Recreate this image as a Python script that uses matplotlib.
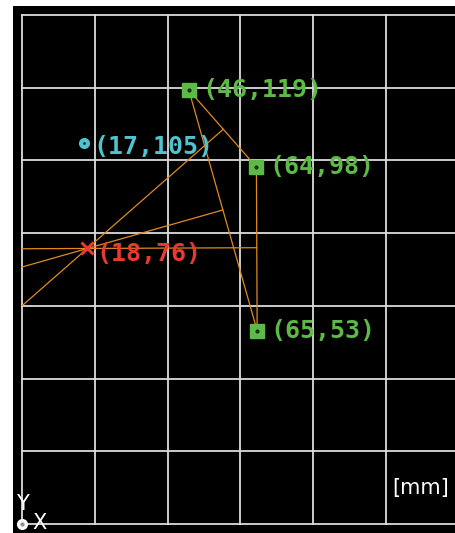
import matplotlib
matplotlib.use("Agg")
import matplotlib.pyplot as plt
import numpy as np

# measured points [mm]
green_x = [45.8, 64.4, 64.6]
green_y = [119.4, 98.2, 53.2]
blue_x = [17.0]
blue_y = [104.9]
red_x = [17.9]
red_y = [75.8]

grid_step = 20
grid_w = 120
grid_h = 140

GREEN = "#5dba46"
CYAN = "#4fc3cf"
RED = "#e83a2e"
ORANGE = "#e08a1e"
GRIDC = "#dcdcdc"


def label(x, y):
    return "(%d,%d)" % (round(x), round(y))


def foot(p, a, b):
    d = b - a
    t = np.dot(p - a, d) / np.dot(d, d)
    return a + t * d


fig = plt.figure(figsize=(4.56, 5.33), dpi=100)
ax = fig.add_axes([13 / 456, 0, 1 - 13 / 456, 1 - 6 / 533])
ax.set_facecolor("black")
ax.set_xlim(-2.56, 119.3)
ax.set_ylim(-2.48, 142.5)
ax.set_axis_off()
ax.add_patch(plt.Rectangle((-10, -10), 200, 200, color="black", zorder=0))

# grid
for gx in range(0, grid_w + 1, grid_step):
    ax.plot([gx, gx], [0, grid_h], color=GRIDC, lw=1.3, zorder=1)
for gy in range(0, grid_h + 1, grid_step):
    ax.plot([0, grid_w], [gy, gy], color=GRIDC, lw=1.3, zorder=1)

# triangle of green points
pts = np.array(list(zip(green_x, green_y)))
for i, j in [(0, 1), (0, 2), (1, 2)]:
    ax.plot([pts[i, 0], pts[j, 0]], [pts[i, 1], pts[j, 1]], color=ORANGE, lw=0.9, zorder=2)

# perpendiculars from the red point, extended to the left border
p = np.array([red_x[0], red_y[0]])
for i, j in [(0, 1), (0, 2), (1, 2)]:
    f = foot(p, pts[i], pts[j])
    d = p - f
    t = (0 - f[0]) / d[0]
    e = f + t * d
    ax.plot([f[0], e[0]], [f[1], e[1]], color=ORANGE, lw=0.9, zorder=2)

# markers
ax.plot(green_x, green_y, "s", ms=10.5, color=GREEN, mec=GREEN, zorder=4)
ax.plot(green_x, green_y, "o", ms=2, color="#1a3010", zorder=5)
ax.plot(blue_x, blue_y, "o", ms=7, color=CYAN, mec=CYAN, zorder=4)
ax.plot(blue_x, blue_y, "o", ms=1, color="#0a3035", mec="#0a3035", zorder=5)
ax.plot(red_x, red_y, "x", ms=9, mew=2.2, color=RED, zorder=4)

tk = dict(fontsize=18, va="center", ha="left", family="DejaVu Sans Mono",
          weight="bold", zorder=6)
for x, y in zip(green_x, green_y):
    ax.text(x + 3.6, y + 0.0, label(x, y), color=GREEN, **tk)
ax.text(blue_x[0] + 2.6, blue_y[0] - 1.1, label(blue_x[0], blue_y[0]), color=CYAN, **tk)
ax.text(red_x[0] + 2.4, red_y[0] - 1.6, label(red_x[0], red_y[0]), color=RED, **tk)

ax.text(117.5, 10.0, "[mm]", color="white", fontsize=15, ha="right", va="center", zorder=6)

# axis indicator
ax.plot([0], [0], "o", ms=7, color="white", zorder=6)
ax.plot([0], [0], "o", ms=2, color="#909090", zorder=7)
ax.text(0.0, 5.5, "Y", color="white", fontsize=15, ha="center", va="center", zorder=6)
ax.text(4.7, 0.3, "X", color="white", fontsize=15, ha="center", va="center", zorder=6)

fig.savefig("out.png", dpi=100)
